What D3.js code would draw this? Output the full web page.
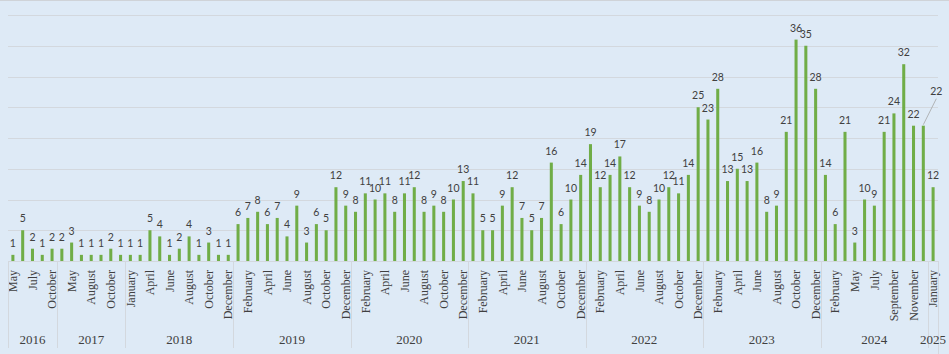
<!DOCTYPE html>
<html>
<head>
<meta charset="utf-8">
<script src="https://cdn.jsdelivr.net/npm/d3@7"></script>
<style>
  html, body { margin: 0; padding: 0; background: #deeaf6; }
  svg { display: block; }
</style>
</head>
<body>
<div id="chart"></div>
<script>
const width = 949, height = 354;

// one entry per bar (months with zero items are not in the source)
const months = [
  "May", "June", "July", "September", "October",
  "April", "May", "July", "August", "September", "October", "December",
  "January", "March", "April", "May", "June", "July", "August", "September", "October", "November", "December",
  "January", "February", "March", "April", "May", "June", "July", "August", "September", "October", "November", "December",
  "January", "February", "March", "April", "May", "June", "July", "August", "September", "October", "November", "December",
  "January", "February", "March", "April", "May", "June", "July", "August", "September", "October", "November", "December",
  "January", "February", "March", "April", "May", "June", "July", "August", "September", "October", "November", "December",
  "January", "February", "March", "April", "May", "June", "July", "August", "September", "October", "November", "December",
  "January", "February", "April", "May", "June", "July", "August", "September", "October", "November", "December",
  "January"
];
const values = [
  1, 5, 2, 1, 2,
  2, 3, 1, 1, 1, 2, 1,
  1, 1, 5, 4, 1, 2, 4, 1, 3, 1, 1,
  6, 7, 8, 6, 7, 4, 9, 3, 6, 5, 12, 9,
  8, 11, 10, 11, 8, 11, 12, 8, 9, 8, 10, 13,
  11, 5, 5, 9, 12, 7, 5, 7, 16, 6, 10, 14,
  19, 12, 14, 17, 12, 9, 8, 10, 12, 11, 14, 25,
  23, 28, 13, 15, 13, 16, 8, 9, 21, 36, 35, 28,
  14, 6, 21, 3, 10, 9, 21, 24, 32, 22, 22,
  12
];
const years = ["2016", "2017", "2018", "2019", "2020", "2021", "2022", "2023", "2024", "2025"];
const monthsPerYear = [5, 7, 11, 12, 12, 12, 12, 12, 11, 1];
const yTicks = [5, 10, 15, 20, 25, 30, 35, 40];

const plot = {left: 8, right: 938, top: 15, bottom: 261};
const barColor = "#70ad47", gridColor = "#d3d8de", textColor = "#404040";
const serif = "'Liberation Serif', 'DejaVu Serif', serif";

const svg = d3.select("#chart").append("svg")
  .attr("width", width)
  .attr("height", height);

svg.append("rect").attr("width", width).attr("height", height).attr("fill", "#deeaf6");
svg.append("line")
  .attr("x1", 0).attr("x2", width).attr("y1", 0.5).attr("y2", 0.5)
  .attr("stroke", "#cfd3d8");

const x = d3.scaleBand()
  .domain(d3.range(values.length))
  .range([plot.left, plot.right])
  .paddingInner(0.69)
  .paddingOuter(0.345);

const y = d3.scaleLinear()
  .domain([0, 40])
  .range([plot.bottom, plot.top]);

// left edge of band i (halfway into the gap before it)
const bandEdge = i => i <= 0 ? plot.left
  : i >= values.length ? plot.right
  : x(i) - x.step() * x.paddingInner() / 2;

// gridlines
svg.append("g")
  .selectAll("line")
  .data(yTicks)
  .join("line")
  .attr("x1", plot.left).attr("x2", plot.right)
  .attr("y1", d => Math.round(y(d)) + 0.5).attr("y2", d => Math.round(y(d)) + 0.5)
  .attr("stroke", gridColor);

// bars
svg.append("g")
  .selectAll("rect")
  .data(values)
  .join("rect")
  .attr("x", (d, i) => x(i))
  .attr("y", d => y(d))
  .attr("width", x.bandwidth())
  .attr("height", d => y(0) - y(d))
  .attr("fill", barColor);

// data labels; the December 2024 one was pushed aside with a leader line
const movedLabel = 93;
const labels = svg.append("g")
  .attr("font-family", "Lato, 'Open Sans', sans-serif")
  .attr("font-size", 10.5)
  .attr("fill", textColor)
  .attr("text-anchor", "middle");

values.forEach((v, i) => {
  const cx = x(i) + x.bandwidth() / 2;
  if (i === movedLabel) {
    const lx = cx + 13, ly = y(v) - 27;
    svg.append("line")
      .attr("x1", cx).attr("y1", y(v) - 1)
      .attr("x2", lx).attr("y2", ly)
      .attr("stroke", "#a6a6a6").attr("stroke-width", 0.8);
    labels.append("text").attr("x", lx).attr("y", ly - 4).text(v);
  } else {
    labels.append("text").attr("x", cx).attr("y", y(v) - 8).text(v);
  }
});

// category axis
svg.append("line")
  .attr("x1", plot.left).attr("x2", plot.right)
  .attr("y1", plot.bottom + 0.5).attr("y2", plot.bottom + 0.5)
  .attr("stroke", gridColor);

svg.append("g")
  .attr("font-family", serif)
  .attr("font-size", 12)
  .attr("fill", textColor)
  .selectAll("text")
  .data(months.map((m, i) => ({m, i})).filter(d => d.i % 2 === 0))
  .join("text")
  .attr("transform", d => `translate(${x(d.i) + x.bandwidth() / 2},${plot.bottom + 9}) rotate(-90)`)
  .attr("text-anchor", "end")
  .attr("dy", "0.35em")
  .text(d => d.m);

// year groups
const starts = d3.cumsum([0, ...monthsPerYear]);
const yearAxis = svg.append("g");

yearAxis.selectAll("line")
  .data(starts)
  .join("line")
  .attr("x1", s => Math.round(bandEdge(s)) + 0.5)
  .attr("x2", s => Math.round(bandEdge(s)) + 0.5)
  .attr("y1", plot.bottom)
  .attr("y2", s => s >= values.length ? height : 348)
  .attr("stroke", gridColor);

yearAxis.selectAll("text")
  .data(years)
  .join("text")
  .attr("x", (d, k) => (bandEdge(starts[k]) + bandEdge(starts[k + 1])) / 2)
  .attr("y", 344)
  .attr("text-anchor", "middle")
  .attr("font-family", serif)
  .attr("font-size", 13)
  .attr("fill", textColor)
  .text(d => d);
</script>
</body>
</html>
